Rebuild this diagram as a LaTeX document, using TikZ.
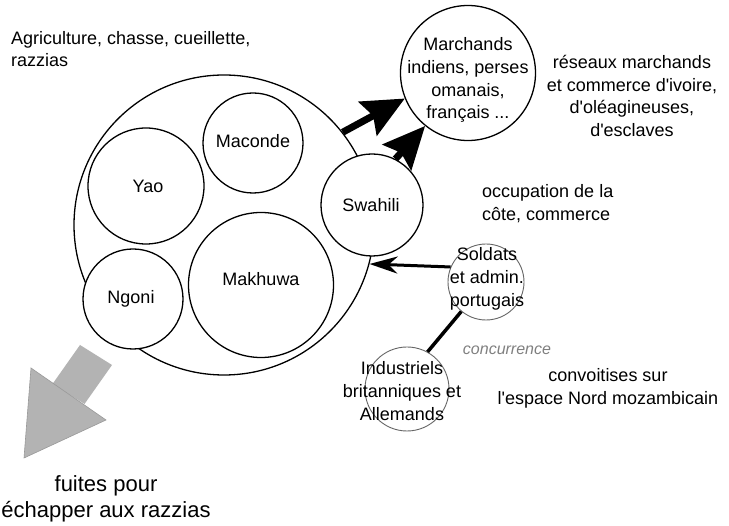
\documentclass[tikz,border=0pt]{standalone}
\usepackage{fontspec}
\setmainfont{Liberation Sans}
\usetikzlibrary{arrows.meta}
\definecolor{arrowgray}{HTML}{B3B3B3}
\definecolor{edgegray}{HTML}{999999}
\definecolor{thingray}{HTML}{666666}
\definecolor{notegray}{HTML}{808080}
\tikzset{
  grp/.style={circle, draw=black, line width=1.3pt, fill=white, inner sep=0pt},
  thincirc/.style={circle, draw=thingray, line width=0.9pt, inner sep=0pt},
  txt/.style={inner sep=0pt, align=center, font=\fontsize{18}{22.8}\selectfont},
  bigarrow/.style={line width=7pt, -{Stealth[length=42pt, width=38pt, inset=6pt]}},
  medarrow/.style={line width=3pt, -{Stealth[length=28pt, width=17pt, inset=9pt]}},
  link/.style={line width=3.5pt}
}
\newcommand{\apos}{\textquotesingle}
\begin{document}
\begin{tikzpicture}[x=1pt, y=-1pt]
\useasboundingbox (0,0) rectangle (729,526);
\fill[white] (0,0) rectangle (729,526);

% grey escape arrow
\fill[arrowgray] (80,345) -- (112,365) -- (84.5,404) -- (52.5,384) -- cycle;
\filldraw[fill=arrowgray, draw=edgegray, line width=0.6pt] (31,368) -- (106,420) -- (24,458) -- cycle;

% main territory
\node[grp, minimum size=300pt] (big) at (224,225) {};
\node[grp, minimum size=116pt] (yao) at (146,186) {};
\node[grp, minimum size=100pt] (maconde) at (253,143) {};
\node[grp, minimum size=100pt] (ngoni) at (133,299) {};
\node[grp, minimum size=145pt] (makhuwa) at (261,285) {};
\node[grp, minimum size=102pt] (swahili) at (372,205) {};
\node[grp, minimum size=135pt] (march) at (468,73) {};

\node[txt] (yaot) at (148,186) {Yao};
\node[txt] (macondet) at (253,141) {Maconde};
\node[txt] (ngonit) at (131,299) {Ngoni};
\node[txt] (makhuwat) at (261,279) {Makhuwa};
\node[txt] (swahilit) at (371,205) {Swahili};
\node[txt] (marcht) at (468,80) {Marchands\\indiens, perses\\omanais,\\français ...};

% portuguese and industrialists
\node[thincirc, minimum size=76pt] (sold) at (486,282) {};
\node[thincirc, minimum size=84pt] (indus) at (407,389) {};
\node[txt] (soldt) at (487,279) {Soldats\\et admin.\\portugais};
\node[txt] (indust) at (402,391) {Industriels\\britanniques et\\Allemands};

% connectors
\draw[bigarrow] (big.38) -- (march.202);
\draw[bigarrow] (swahili.63) -- (march.231);
\draw[medarrow] (sold.157) -- (big.-15.5);
\draw[link] (sold.230) -- (indus.61.6);

% free texts
\node[txt, anchor=west, align=left] (agri) at (11,49) {Agriculture, chasse, cueillette,\\razzias};
\node[txt] (reseaux) at (632,96) {réseaux marchands\\et commerce d\apos ivoire,\\d\apos oléagineuses,\\d\apos esclaves};
\node[txt, anchor=west, align=left] (occup) at (482,204) {occupation de la\\côte, commerce};
\node[txt] (convoit) at (608,388) {convoitises sur\\l\apos espace Nord mozambicain};
\node[inner sep=0pt, text=notegray, font=\fontsize{16}{19}\selectfont\itshape] (concur) at (507,350) {concurrence};
\node[inner sep=0pt, align=center, font=\fontsize{22}{26.5}\selectfont] (fuites) at (106,499) {fuites pour\\échapper aux razzias};
\end{tikzpicture}
\end{document}
